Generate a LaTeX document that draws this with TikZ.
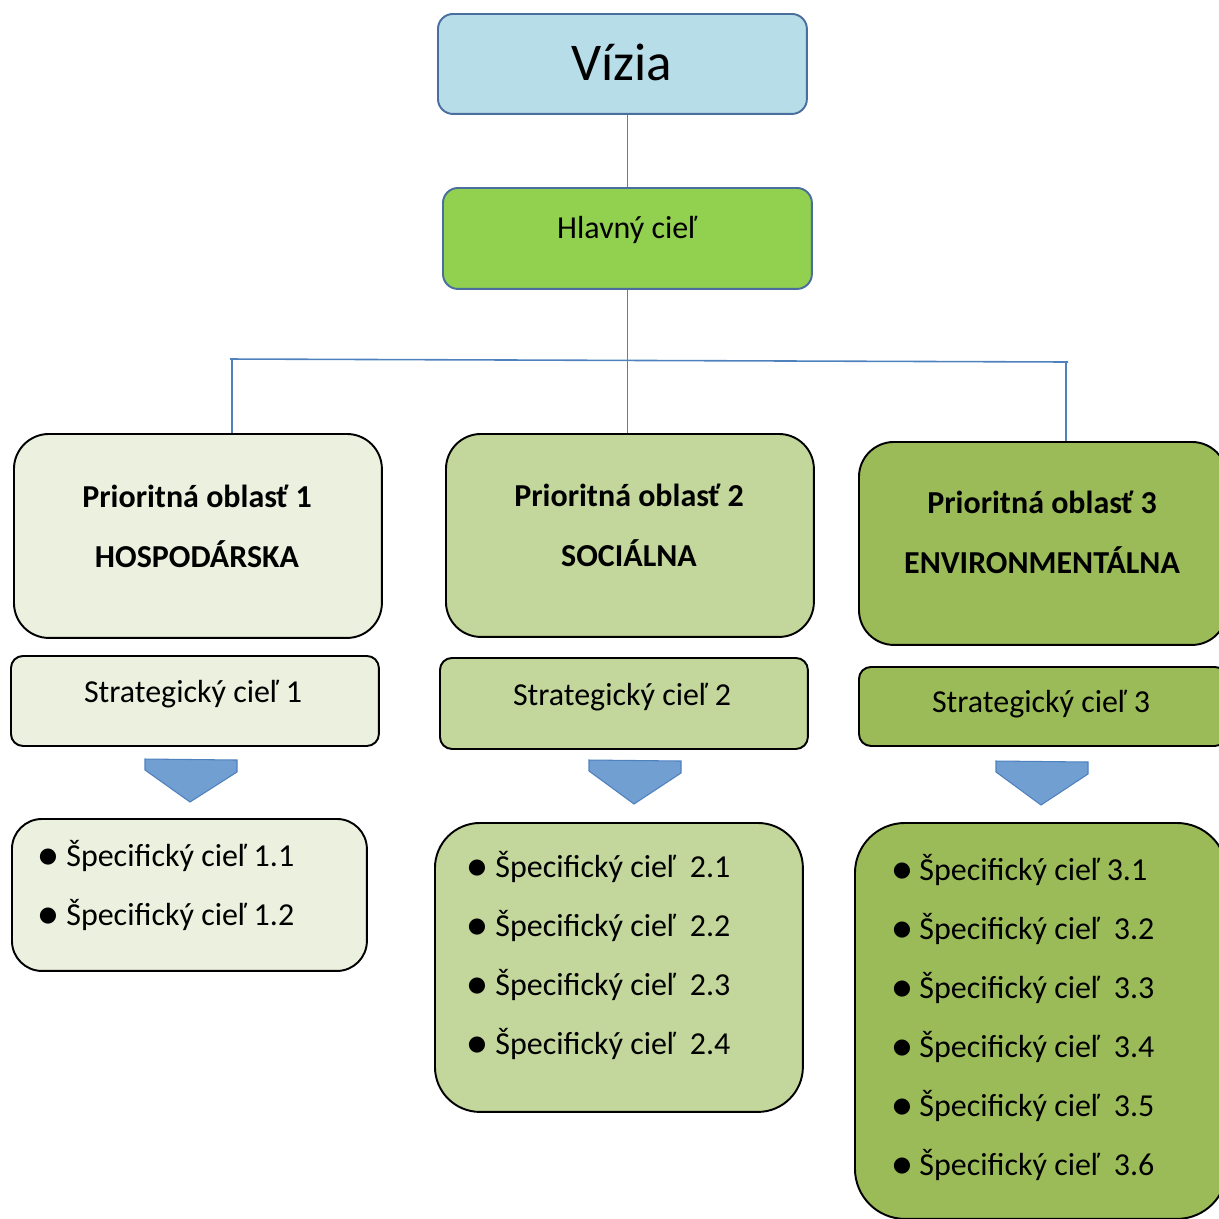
\documentclass[tikz,border=0pt]{standalone}
\usepackage{fontspec}
\setmainfont{Carlito}
\newfontfamily\symbfont{DejaVu Sans}
\usepackage[dvipsnames]{xcolor}
\usepackage{tikz}

\definecolor{viziablue}{HTML}{B7DDE8}
\definecolor{frameblue}{HTML}{4A6E9E}
\definecolor{linkblue}{HTML}{4F81BD}
\definecolor{arrowblue}{HTML}{729FD2}
\definecolor{mainGreen}{HTML}{92D050}
\definecolor{paleGreen}{HTML}{EBF1DE}
\definecolor{midGreen}{HTML}{C3D69B}
\definecolor{darkGreen}{HTML}{9BBB59}

\begin{document}
\begin{tikzpicture}[x=0.02cm,y=-0.02cm,
    every node/.style={font=\fontsize{18.2}{22}\selectfont},
    box/.style={draw=black,line width=1.1pt,inner sep=0pt,anchor=north west},
    title/.style={anchor=base,font=\fontsize{18.2}{22}\selectfont\bfseries},
    label/.style={anchor=base},
    item/.style={anchor=base west,inner sep=0pt},
    dot/.style={inner sep=0pt,font=\fontsize{12}{12}\selectfont\symbfont},
    link/.style={draw=linkblue,line width=0.9pt},
    chevron/.style={fill=arrowblue,draw=linkblue,line width=0.6pt}]
      \clip (0,0) rectangle (1219,1218);

      % top of the tree
      \node[box,draw=frameblue,fill=viziablue,rounded corners=0.3cm,
            minimum width=7.38cm,minimum height=2cm] (vizia) at (437,13) {};
      \node[box,draw=frameblue,fill=mainGreen,rounded corners=0.3cm,
            minimum width=7.38cm,minimum height=2.02cm] (hlavny) at (442,187) {};
      \node[anchor=base,font=\fontsize{30.2}{36}\selectfont] (viziaT) at (622,80) {Vízia};
      \node[label] (hlavnyT) at (627,238) {Hlavný cieľ};

      % priority areas
      \node[box,fill=paleGreen,rounded corners=0.7cm,
            minimum width=7.36cm,minimum height=4.08cm] (po1) at (13,433) {};
      \node[box,fill=midGreen,rounded corners=0.7cm,
            minimum width=7.36cm,minimum height=4.06cm] (po2) at (445,433) {};
      \node[box,fill=darkGreen,rounded corners=0.7cm,
            minimum width=7.36cm,minimum height=4.06cm] (po3) at (858,441) {};
      \node[title] (po1a) at (197,507) {Prioritná oblasť 1};
      \node[title] (po1b) at (197,567) {HOSPODÁRSKA};
      \node[title] (po2a) at (629,506) {Prioritná oblasť 2};
      \node[title] (po2b) at (629,566) {SOCIÁLNA};
      \node[title] (po3a) at (1042,513) {Prioritná oblasť 3};
      \node[title] (po3b) at (1042,573) {ENVIRONMENTÁLNA};

      % strategic goals
      \node[box,fill=paleGreen,rounded corners=0.24cm,
            minimum width=7.36cm,minimum height=1.8cm] (sc1) at (10,655) {};
      \node[box,fill=midGreen,rounded corners=0.24cm,
            minimum width=7.36cm,minimum height=1.82cm] (sc2) at (439,657) {};
      \node[box,fill=darkGreen,rounded corners=0.24cm,
            minimum width=7.36cm,minimum height=1.58cm] (sc3) at (858,666) {};
      \node[label] (sc1T) at (193,702) {Strategický cieľ 1};
      \node[label] (sc2T) at (622,705) {Strategický cieľ 2};
      \node[label] (sc3T) at (1041,712) {Strategický cieľ 3};

      % down arrows
      \draw[chevron] (145,759) -- (237,760) -- (237,772) -- (190,802) -- (145,770) -- cycle;
      \draw[chevron] (589,760) -- (681,761) -- (681,773) -- (634,804) -- (589,771) -- cycle;
      \draw[chevron] (996,761) -- (1088,762) -- (1088,774) -- (1041,805) -- (996,772) -- cycle;

      % specific goals
      \node[box,fill=paleGreen,rounded corners=0.6cm,
            minimum width=7.1cm,minimum height=3.04cm] (sp1) at (11,818) {};
      \node[box,fill=midGreen,rounded corners=0.9cm,
            minimum width=7.36cm,minimum height=5.78cm] (sp2) at (434,822) {};
      \node[box,fill=darkGreen,rounded corners=1cm,
            minimum width=7.44cm,minimum height=7.92cm] (sp3) at (854,822) {};

      \node[dot] (d11) at (48,857) {●};
      \node[dot] (d12) at (48,916) {●};
      \node[item] (s11) at (66,866) {Špecifický cieľ 1.1};
      \node[item] (s12) at (66,925) {Špecifický cieľ 1.2};

      \node[dot] (d21) at (477,868) {●};
      \node[dot] (d22) at (477,927) {●};
      \node[dot] (d23) at (477,986) {●};
      \node[dot] (d24) at (477,1045) {●};
      \node[item] (s21) at (495,877) {Špecifický cieľ\ \ 2.1};
      \node[item] (s22) at (495,936) {Špecifický cieľ\ \ 2.2};
      \node[item] (s23) at (495,995) {Špecifický cieľ\ \ 2.3};
      \node[item] (s24) at (495,1054) {Špecifický cieľ\ \ 2.4};

      \node[dot] (d31) at (902,871) {●};
      \node[dot] (d32) at (902,930) {●};
      \node[dot] (d33) at (902,989) {●};
      \node[dot] (d34) at (902,1048) {●};
      \node[dot] (d35) at (902,1107) {●};
      \node[dot] (d36) at (902,1166) {●};
      \node[item] (s31) at (919,880) {Špecifický cieľ 3.1};
      \node[item] (s32) at (919,939) {Špecifický cieľ\ \ 3.2};
      \node[item] (s33) at (919,998) {Špecifický cieľ\ \ 3.3};
      \node[item] (s34) at (919,1057) {Špecifický cieľ\ \ 3.4};
      \node[item] (s35) at (919,1116) {Špecifický cieľ\ \ 3.5};
      \node[item] (s36) at (919,1175) {Špecifický cieľ\ \ 3.6};

      % connectors
      \coordinate (barL) at (230,359);
      \coordinate (barR) at (1068,362);
      \coordinate (L1) at (232,359);
      \coordinate (R1) at (1066,362);
      \draw[link] (hlavny.north |- vizia.south) -- (hlavny.north);
      \draw[link] (hlavny.south) -- (hlavny.south |- po2.north);
      \draw[link] (barL) -- (barR);
      \draw[link] (L1) -- (L1 |- po1.north);
      \draw[link] (R1) -- (R1 |- po3.north);
\end{tikzpicture}
\end{document}
